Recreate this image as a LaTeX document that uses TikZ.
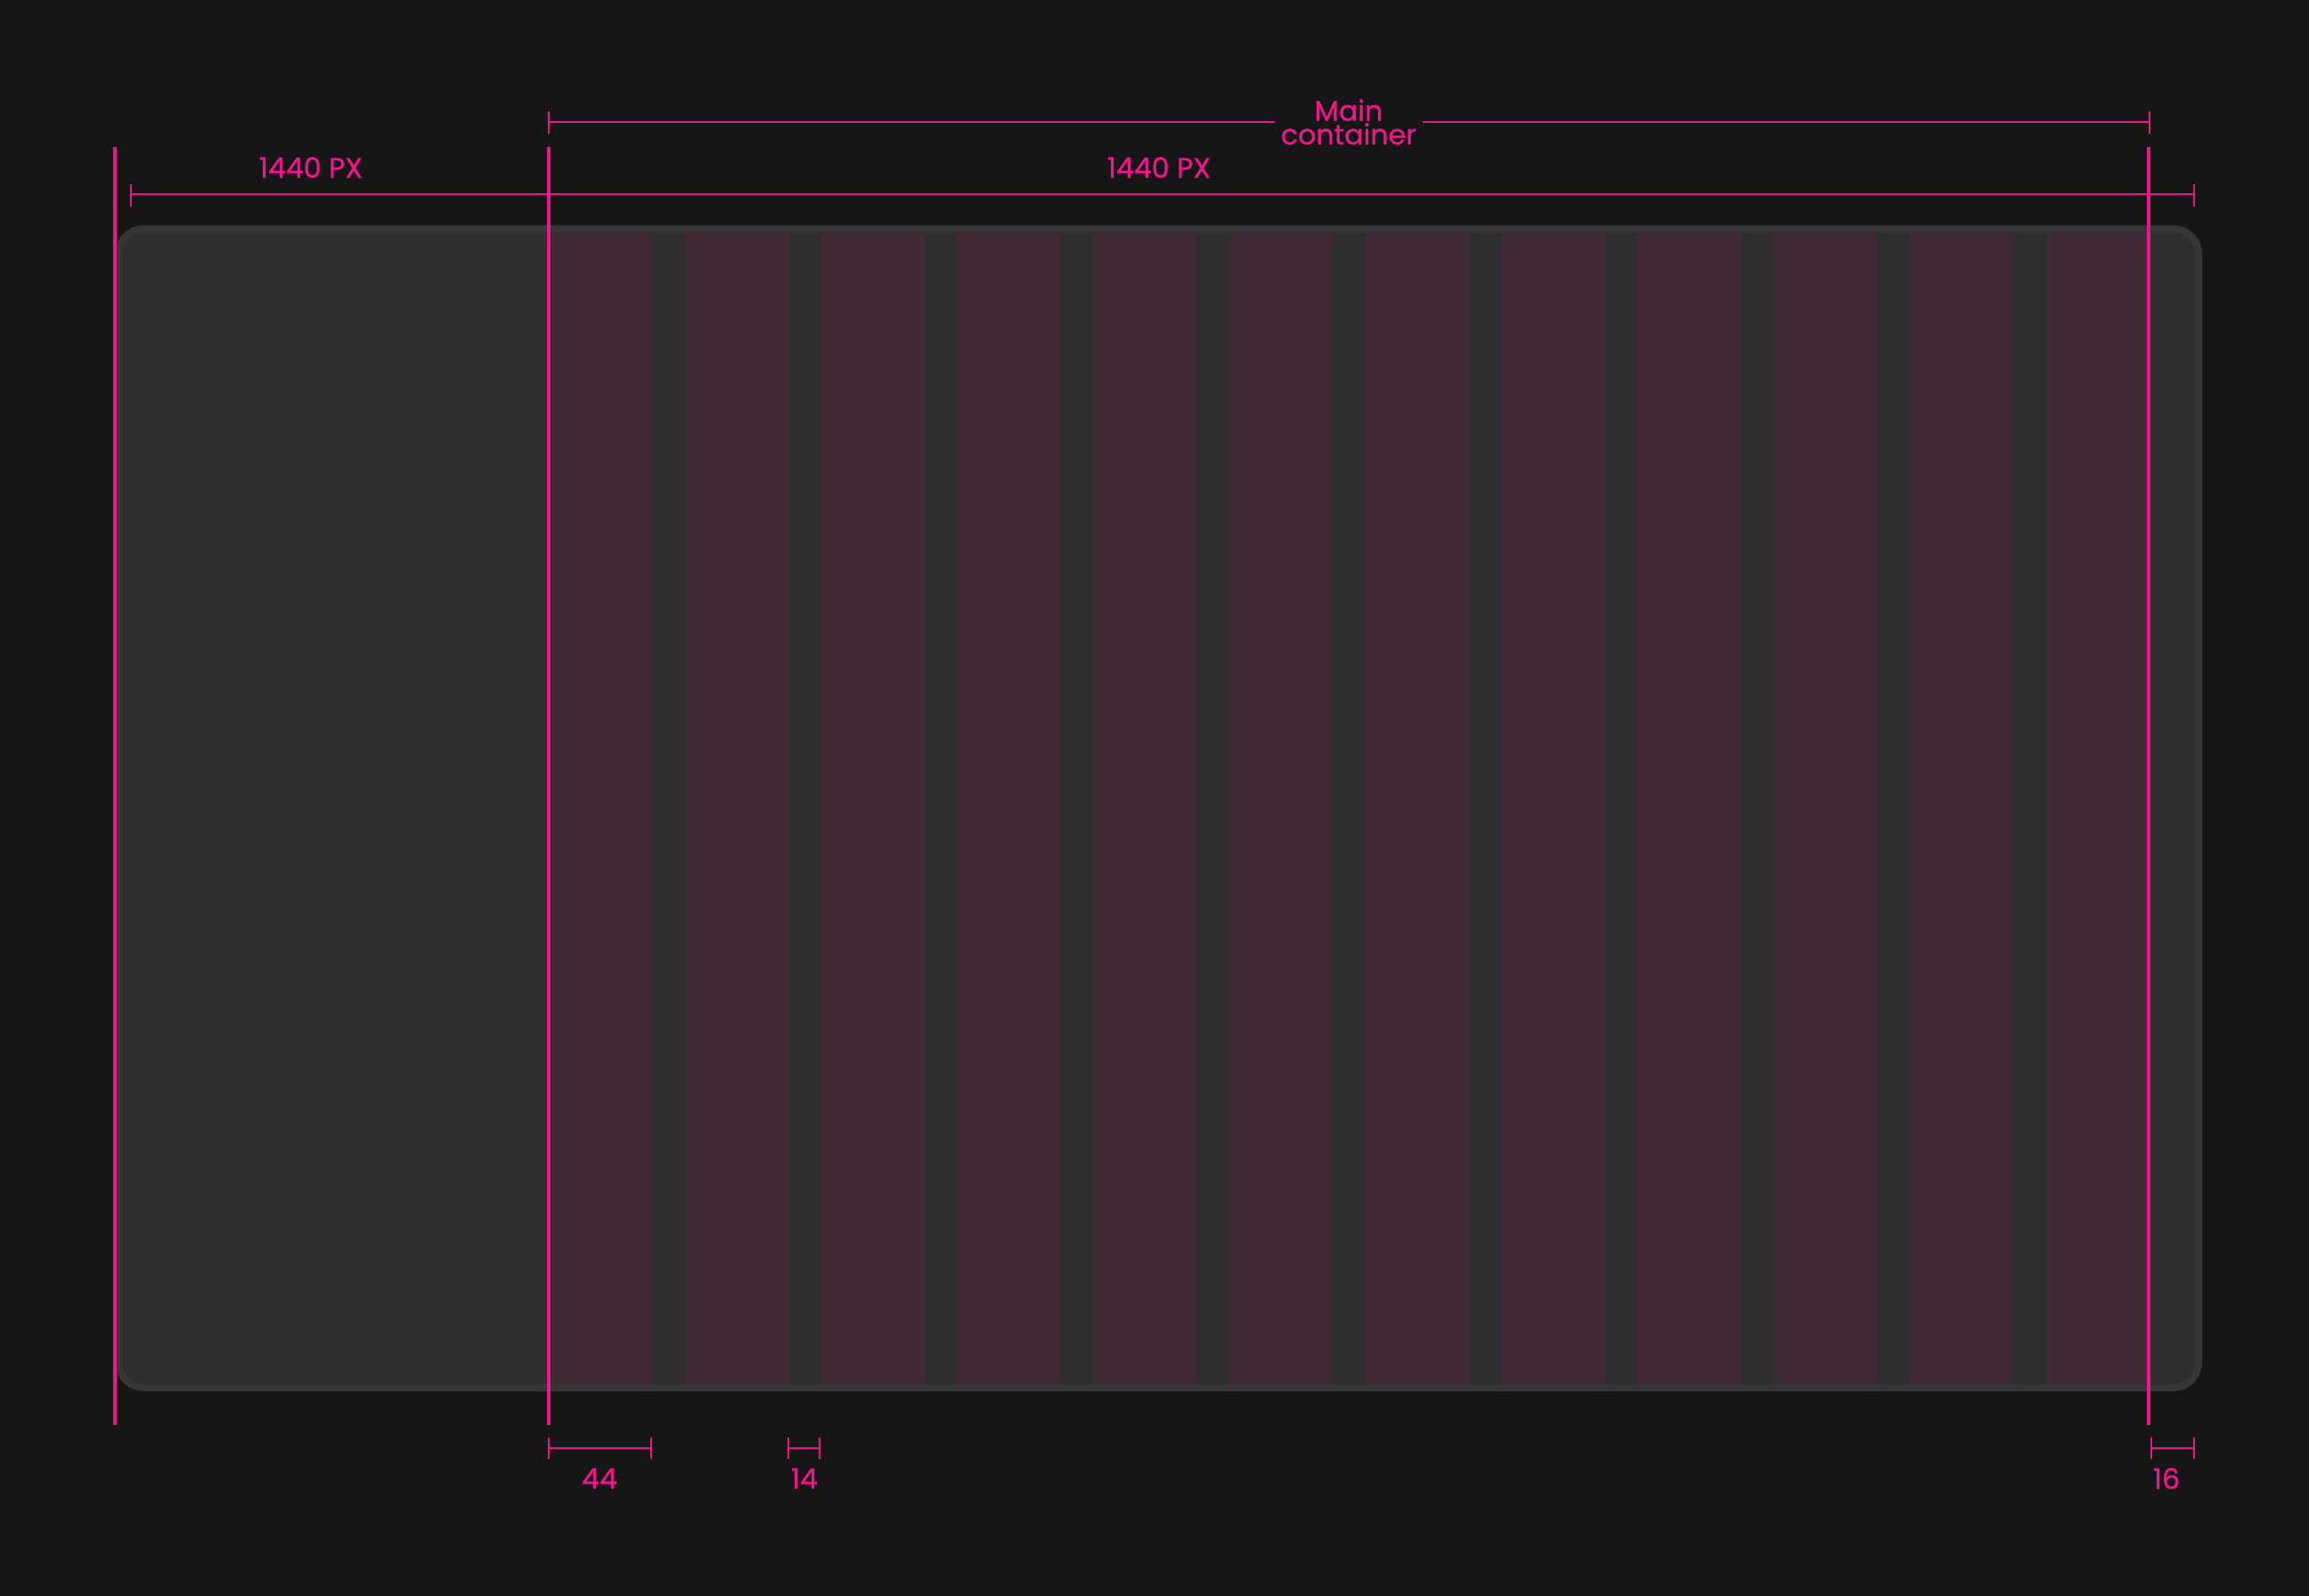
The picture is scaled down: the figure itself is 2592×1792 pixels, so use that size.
\documentclass[tikz,border=0pt]{standalone}
\usepackage{fontspec}
\setmainfont{Poppins}
\newfontfamily\gridfont[FakeBold=0.9]{Poppins}
\usepackage{xcolor}
\definecolor{gridpink}{RGB}{238,22,139}
\definecolor{pagebg}{RGB}{22,22,22}
\definecolor{boxfill}{RGB}{46,46,46}
\definecolor{boxedge}{RGB}{54,54,54}
\definecolor{colfill}{RGB}{65,42,54}
\usepackage{tikz}

\begin{document}
\begin{tikzpicture}[x=0.1mm,y=-0.1mm,
    guide/.style={draw=gridpink, line width=0.32mm},
    dim/.style={draw=gridpink, line width=0.2mm},
    lbl/.style={text=gridpink, font=\gridfont\fontsize{9}{7.6}\selectfont, inner sep=0pt}]
  \useasboundingbox[fill=pagebg] (0,0) rectangle (2592,1792);

  % screen frame
  \filldraw[fill=boxfill, draw=boxedge, line width=0.8mm, rounded corners=2.8mm]
    (133,257) rectangle (2468,1558);

  % 12 columns, 44 / 14
  \fill[colfill] (616.0,262) rectangle (731.9,1553);
  \fill[colfill] (768.8,262) rectangle (884.7,1553);
  \fill[colfill] (921.6,262) rectangle (1037.5,1553);
  \fill[colfill] (1074.4,262) rectangle (1190.3,1553);
  \fill[colfill] (1227.2,262) rectangle (1343.1,1553);
  \fill[colfill] (1380.0,262) rectangle (1495.9,1553);
  \fill[colfill] (1532.8,262) rectangle (1648.7,1553);
  \fill[colfill] (1685.6,262) rectangle (1801.5,1553);
  \fill[colfill] (1838.4,262) rectangle (1954.3,1553);
  \fill[colfill] (1991.2,262) rectangle (2107.1,1553);
  \fill[colfill] (2144.0,262) rectangle (2259.9,1553);
  \fill[colfill] (2296.8,262) rectangle (2412.7,1553);

  % guides
  \path[guide] (129,165) -- (129,1600);
  \path[guide] (616,165) -- (616,1600);
  \path[guide] (2412,165) -- (2412,1600);

  % main container
  \coordinate (mcL) at (616,137);
  \coordinate (mcR) at (2413,137);
  \node[lbl, align=center, inner xsep=0.6mm] (main) at (1514,137) {Main\\container};
  \path[dim] (mcL) -- (main.west);
  \path[dim] (main.east) -- (mcR);
  \path[dim] (616,125) -- (616,150);
  \path[dim] (2413,125) -- (2413,150);

  % full width
  \coordinate (fwL) at (147,218);
  \coordinate (fwR) at (2463,218);
  \path[dim] (fwL) -- (fwR);
  \path[dim] (147,207) -- (147,232);
  \path[dim] (2463,207) -- (2463,232);
  \node[lbl] (pxa) at (349,188) {1440 PX};
  \node[lbl] (pxb) at (1301,188) {1440 PX};

  % column, gutter, margin
  \path[dim] (616,1626) -- (731,1626);
  \path[dim] (616,1614) -- (616,1638);
  \path[dim] (731,1614) -- (731,1638);
  \node[lbl] (col) at (673,1660) {44};
  \path[dim] (885,1626) -- (920,1626);
  \path[dim] (885,1614) -- (885,1638);
  \path[dim] (920,1614) -- (920,1638);
  \node[lbl] (gut) at (903,1660) {14};
  \path[dim] (2415,1626) -- (2463,1626);
  \path[dim] (2415,1614) -- (2415,1638);
  \path[dim] (2463,1614) -- (2463,1638);
  \node[lbl] (mar) at (2432,1660) {16};
\end{tikzpicture}
\end{document}
